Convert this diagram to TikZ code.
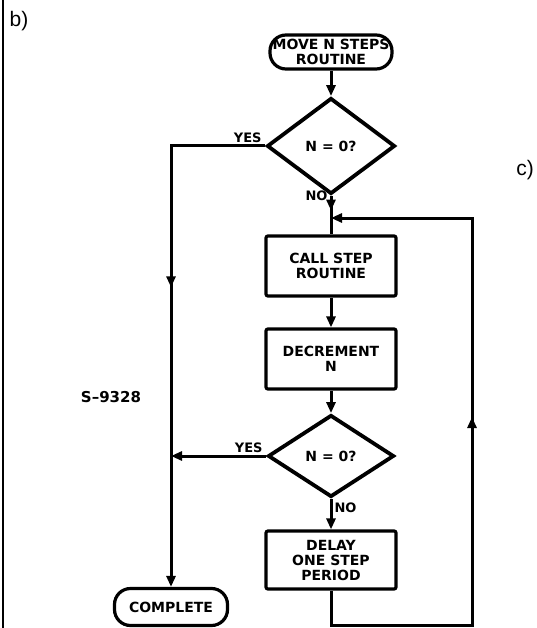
\documentclass[tikz,border=0pt]{standalone}
\usepackage{fontspec}
\setmainfont{Liberation Sans}
\newfontfamily\chartfont{DejaVu Sans}
\usepackage{tikz}
\usetikzlibrary{shapes.geometric, arrows.meta, decorations.markings}

\begin{document}
\begin{tikzpicture}[
    x=1pt, y=-1pt,
    terminal/.style={
        draw, line width=3.2pt,
        rectangle, rounded corners=16pt,
        inner sep=2pt, align=center,
        font=\chartfont\bfseries\fontsize{14}{15}\selectfont
    },
    box/.style={
        draw, line width=3.2pt,
        rectangle, rounded corners=2pt,
        minimum width=130pt, minimum height=60pt,
        inner sep=2pt, align=center,
        font=\chartfont\bfseries\fontsize{14}{15}\selectfont
    },
    decision/.style={
        draw, line width=3.8pt,
        diamond, inner sep=0pt,
        font=\chartfont\bfseries\fontsize{14}{15}\selectfont
    },
    lbl/.style={
        inner sep=2pt,
        font=\chartfont\bfseries\fontsize{13}{14}\selectfont
    },
    tag/.style={
        font=\fontsize{21}{23}\selectfont
    },
    line/.style={line width=3pt},
    arr/.style={
        line, -{Triangle[length=11pt,width=9pt]}
    },
    midarr/.style={
        postaction={decorate},
        decoration={markings,
            mark=at position #1 with {\arrow{Triangle[length=11pt,width=9pt]}}}
    },
]
\useasboundingbox (0,0) rectangle (536,628);

% frame edge and panel letters
\draw[line width=2pt] (3,0) -- (3,628);
\node[tag] (panelb) at (19,21) {b)};
\node[tag] (panelc) at (525,170) {c)};
\node[lbl, font=\chartfont\bfseries\fontsize{15}{16}\selectfont] (drawno) at (111,397) {S–9328};

% flow chart
\node[terminal, minimum width=122pt, minimum height=34pt] (start) at (331,52) {MOVE N STEPS\\ROUTINE};
\node[decision, minimum width=128pt, minimum height=96pt] (test1) at (331,146) {N = 0?};
\node[box] (callstep) at (331,266) {CALL STEP\\ROUTINE};
\node[box] (decr) at (331,359) {DECREMENT\\N};
\node[decision, minimum width=126pt, minimum height=82pt] (test2) at (331,456) {N = 0?};
\node[box, minimum height=58pt] (delay) at (331,560) {DELAY\\ONE STEP\\PERIOD};
\node[terminal, minimum width=113pt, minimum height=37pt] (complete) at (171,607) {COMPLETE};

\coordinate (join) at (331,218);
\coordinate (loopcorner) at (472,625);

\draw[arr] (start) -- (test1);
\draw[line, midarr=0.38] (test1.south) node[lbl, left] {NO} -- (callstep);
\draw[arr, midarr=0.44] (test1.west) node[lbl, above left] {YES} -| (complete.north);
\draw[arr] (callstep) -- (decr);
\draw[arr] (decr) -- (test2);
\draw[arr] (test2.west) node[lbl, above left] {YES} -- (test2.west -| complete.north);
\draw[arr] (test2.south) node[lbl, below right] {NO} -- (delay);
\draw[arr, midarr=0.53] (delay.south) |- (loopcorner) |- (join);
\end{tikzpicture}
\end{document}
